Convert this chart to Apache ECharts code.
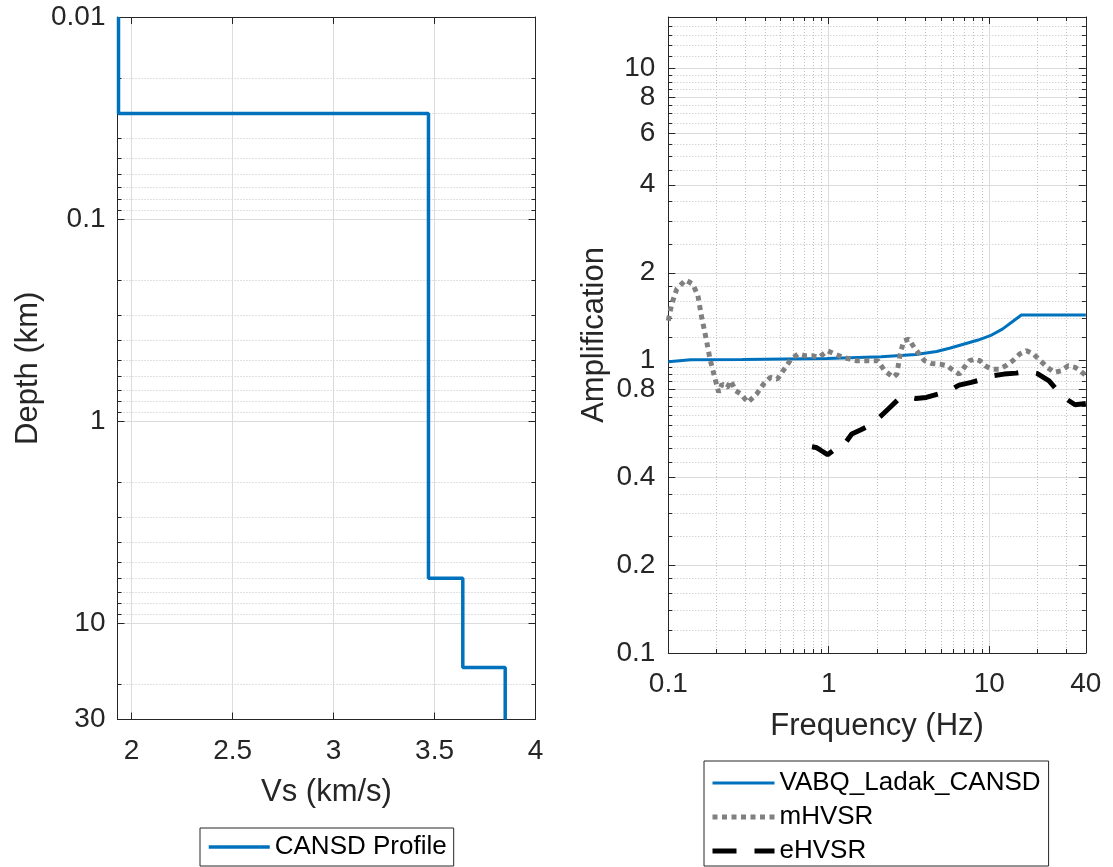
<!DOCTYPE html>
<html>
<head>
<meta charset="utf-8">
<script src="https://cdn.jsdelivr.net/npm/echarts@6/dist/echarts.min.js"></script>
<style>
  html, body { margin: 0; padding: 0; background: #ffffff; }
  #main { width: 1113px; height: 867px; }
</style>
</head>
<body>
<div id="main"></div>
<script>
// ---- Shear-wave velocity profile (layer boundaries in km, Vs in km/s) ----
const depthBounds = [0.01, 0.03, 6.0, 16.6, 30];
const vsLayers = [1.935, 3.47, 3.64, 3.85];

// ---- Theoretical amplification for the profile ----
const freqModel = [0.1, 0.138, 0.291, 0.98, 2.12, 3.49, 4.70, 5.73, 7.0, 8.53, 10.15, 12.08, 14.0, 15.87, 40];
const ampModel  = [0.992, 1.008, 1.010, 1.018, 1.032, 1.051, 1.076, 1.105, 1.141, 1.177, 1.218, 1.283, 1.363, 1.434, 1.434];

// ---- mHVSR ----
const freqM = [0.1, 0.105, 0.113, 0.128, 0.142, 0.153, 0.160, 0.173, 0.182, 0.196, 0.206, 0.216, 0.233, 0.245, 0.263, 0.284, 0.313, 0.355, 0.392, 0.433, 0.478, 0.528, 0.583, 0.644, 0.712, 0.786, 0.868, 0.983, 1.086, 1.229, 1.357, 1.499, 1.656, 1.829, 2.02, 2.231, 2.526, 2.655, 2.79, 2.932, 3.159, 3.403, 3.666, 3.95, 4.362, 4.938, 5.455, 6.025, 6.492, 6.993, 7.534, 8.118, 8.745, 9.422, 10.4, 11.49, 12.69, 14.02, 15.49, 17.1, 18.89, 20.86, 23.04, 25.44, 28.11, 31.04, 34.29, 36.94, 40];
const ampM  = [1.371, 1.563, 1.759, 1.889, 1.830, 1.670, 1.445, 1.171, 1.013, 0.865, 0.779, 0.832, 0.810, 0.854, 0.789, 0.769, 0.720, 0.769, 0.832, 0.877, 0.865, 0.936, 1.013, 1.054, 1.040, 1.040, 1.027, 1.082, 1.054, 1.027, 1.013, 1.0, 1.0, 1.0, 1.0, 0.924, 0.877, 0.900, 1.054, 1.171, 1.186, 1.111, 1.054, 1.0, 0.979, 0.974, 0.961, 0.924, 0.900, 0.949, 1.0, 1.013, 1.0, 0.961, 0.936, 0.936, 0.961, 1.0, 1.054, 1.082, 1.054, 1.0, 0.949, 0.912, 0.924, 0.961, 0.949, 0.924, 0.889];

// ---- eHVSR ----
const freqE = [0.786, 0.834, 0.890, 0.983, 1.059, 1.199, 1.391, 1.575, 1.784, 2.123, 2.403, 2.721, 3.081, 3.487, 4.049, 4.817, 5.591, 6.492, 7.724, 9.19, 10.66, 12.38, 14.73, 17.1, 19.85, 23.62, 26.74, 30.28, 34.29, 40];
const ampE  = [0.508, 0.505, 0.494, 0.477, 0.492, 0.502, 0.561, 0.579, 0.599, 0.648, 0.692, 0.739, 0.753, 0.743, 0.749, 0.769, 0.789, 0.825, 0.843, 0.865, 0.889, 0.900, 0.907, 0.919, 0.905, 0.854, 0.789, 0.739, 0.707, 0.714];

// ---- Tick sets ----
const vsTicks = [2, 2.5, 3, 3.5, 4];
const depthTicks = [0.01, 0.1, 1, 10, 30];
const depthMinor = [0.02, 0.03, 0.04, 0.05, 0.06, 0.07, 0.08, 0.09, 0.2, 0.3, 0.4, 0.5, 0.6, 0.7, 0.8, 0.9, 2, 3, 4, 5, 6, 7, 8, 9, 20];
const freqTicks = [0.1, 1, 10, 40];
const freqMinor = [0.2, 0.3, 0.4, 0.5, 0.6, 0.7, 0.8, 0.9, 2, 3, 4, 5, 6, 7, 8, 9, 20, 30];
const ampTicks = [0.1, 0.2, 0.4, 0.8, 1, 2, 4, 6, 8, 10];
const ampMinor = [0.12, 0.14, 0.16, 0.18, 0.25, 0.3, 0.35, 0.45, 0.5, 0.55, 0.6, 0.65, 0.7, 0.75, 0.85, 0.9, 0.95, 1.2, 1.4, 1.6, 1.8, 2.5, 3, 3.5, 4.5, 5, 5.5, 6.5, 7, 7.5, 8.5, 9, 9.5, 11, 12, 13, 14];

// ---- Styling ----
const FONT = 'Liberation Sans, Arial, Helvetica, sans-serif';
const INK = '#262626';
const BLUE = '#0072BD';
const GREY = '#808080';
const tickFont = { fontFamily: FONT, fontSize: 28, color: INK };
const titleFont = { fontFamily: FONT, fontSize: 31, color: INK };
const majorGrid = { show: true, lineStyle: { color: '#dcdcdc', width: 1, type: 'solid' } };
const minorGrid = { show: true, lineStyle: { color: '#c2c2c2', width: 1, type: [1, 2] } };
const fmtNum = v => String(parseFloat(Number(v).toPrecision(6)));

const styleProfile = { color: BLUE, width: 3.5 };
const styleModel = { color: BLUE, width: 3 };
const styleM = { color: GREY, width: 5, type: [5, 4.5] };
const styleE = { color: '#000000', width: 5, type: [24, 18] };

// Axis that carries a line, ticks, optional labels and grid
function makeAxis(o) {
  return {
    gridIndex: o.grid,
    type: o.type,
    logBase: 10,
    position: o.position,
    inverse: !!o.inverse,
    min: o.min,
    max: o.max,
    name: o.name || '',
    nameLocation: 'middle',
    nameGap: o.nameGap || 0,
    nameTextStyle: titleFont,
    axisLine: { show: o.line !== false, onZero: false, lineStyle: { color: INK, width: 1 } },
    axisTick: {
      show: true, inside: true, length: o.tickLen || 7,
      customValues: o.ticks,
      lineStyle: { color: INK, width: 1 }
    },
    axisLabel: o.labels
      ? Object.assign({ show: true, customValues: o.ticks, margin: o.margin, formatter: fmtNum }, tickFont)
      : { show: false, customValues: o.ticks },
    splitLine: o.grid_ || { show: false },
    minorTick: { show: false },
    minorSplitLine: { show: false },
    silent: true
  };
}

const profilePts = [];
vsLayers.forEach((v, i) => {
  profilePts.push([v, depthBounds[i]], [v, depthBounds[i + 1]]);
});
const zip = (a, b) => a.map((x, i) => [x, b[i]]);

// Legend entries: plain line samples, no marker
const legendEntry = (name, ls) => ({
  name,
  itemStyle: { opacity: 0 },
  lineStyle: { width: ls.width, type: ls.type || 'solid', color: ls.color, cap: 'butt' }
});

const legendBase = {
  orient: 'vertical',
  borderColor: INK, borderWidth: 1, borderRadius: 0,
  backgroundColor: '#ffffff',
  selectedMode: false,
  itemStyle: { opacity: 0 },
  textStyle: { fontFamily: FONT, fontSize: 26, color: '#000000' }
};

const chart = echarts.init(document.getElementById('main'), null, { renderer: 'canvas' });

chart.setOption({
  animation: false,
  backgroundColor: '#ffffff',
  grid: [
    { left: 117.5, top: 17, width: 418, height: 702.5 },
    { left: 668.3, top: 17, width: 417.5, height: 636 }
  ],
  xAxis: [
    makeAxis({ grid: 0, type: 'value', position: 'bottom', min: 1.93, max: 4, ticks: vsTicks, labels: true, margin: 18, grid_: majorGrid, name: 'Vs (km/s)', nameGap: 57 }),
    makeAxis({ grid: 0, type: 'value', position: 'top', min: 1.93, max: 4, ticks: vsTicks }),
    makeAxis({ grid: 1, type: 'log', position: 'bottom', min: 0.1, max: 40, ticks: freqTicks, labels: true, margin: 17, grid_: majorGrid, name: 'Frequency (Hz)', nameGap: 58 }),
    makeAxis({ grid: 1, type: 'log', position: 'top', min: 0.1, max: 40, ticks: freqTicks }),
    makeAxis({ grid: 1, type: 'log', position: 'bottom', min: 0.1, max: 40, ticks: freqMinor, tickLen: 4, line: false, grid_: minorGrid }),
    makeAxis({ grid: 1, type: 'log', position: 'top', min: 0.1, max: 40, ticks: freqMinor, tickLen: 4, line: false })
  ],
  yAxis: [
    makeAxis({ grid: 0, type: 'log', position: 'left', inverse: true, min: 0.01, max: 30, ticks: depthTicks, labels: true, margin: 12, grid_: majorGrid, name: 'Depth (km)', nameGap: 74 }),
    makeAxis({ grid: 0, type: 'log', position: 'right', inverse: true, min: 0.01, max: 30, ticks: depthTicks }),
    makeAxis({ grid: 0, type: 'log', position: 'left', inverse: true, min: 0.01, max: 30, ticks: depthMinor, tickLen: 4, line: false, grid_: minorGrid }),
    makeAxis({ grid: 0, type: 'log', position: 'right', inverse: true, min: 0.01, max: 30, ticks: depthMinor, tickLen: 4, line: false }),
    makeAxis({ grid: 1, type: 'log', position: 'left', min: 0.1, max: 15, ticks: ampTicks, labels: true, margin: 13, grid_: majorGrid, name: 'Amplification', nameGap: 58 }),
    makeAxis({ grid: 1, type: 'log', position: 'right', min: 0.1, max: 15, ticks: ampTicks }),
    makeAxis({ grid: 1, type: 'log', position: 'left', min: 0.1, max: 15, ticks: ampMinor, tickLen: 4, line: false, grid_: minorGrid }),
    makeAxis({ grid: 1, type: 'log', position: 'right', min: 0.1, max: 15, ticks: ampMinor, tickLen: 4, line: false })
  ],
  legend: [
    Object.assign({}, legendBase, {
      data: [legendEntry('CANSD Profile', styleProfile)],
      left: 200, top: 828, height: 60,
      itemWidth: 61, itemHeight: 14, itemGap: 0,
      padding: [6, 7, 6, 7]
    }),
    Object.assign({}, legendBase, {
      data: [
        legendEntry('VABQ_Ladak_CANSD', styleModel),
        legendEntry('mHVSR', styleM),
        legendEntry('eHVSR', styleE)
      ],
      left: 704, top: 761, height: 140,
      itemWidth: 62, itemHeight: 14, itemGap: 8,
      padding: [9, 8, 2, 6]
    })
  ],
  series: [
    {
      name: 'CANSD Profile', type: 'line', xAxisIndex: 0, yAxisIndex: 0,
      data: profilePts, symbol: 'none', clip: false,
      lineStyle: styleProfile, itemStyle: { color: BLUE }
    },
    {
      name: 'VABQ_Ladak_CANSD', type: 'line', xAxisIndex: 2, yAxisIndex: 4,
      data: zip(freqModel, ampModel), symbol: 'none', smooth: false,
      lineStyle: styleModel, itemStyle: { color: BLUE }
    },
    {
      name: 'mHVSR', type: 'line', xAxisIndex: 2, yAxisIndex: 4,
      data: zip(freqM, ampM), symbol: 'none', smooth: false,
      lineStyle: styleM, itemStyle: { color: GREY }
    },
    {
      name: 'eHVSR', type: 'line', xAxisIndex: 2, yAxisIndex: 4,
      data: zip(freqE, ampE), symbol: 'none', smooth: false,
      lineStyle: styleE, itemStyle: { color: '#000000' }
    }
  ]
});
</script>
</body>
</html>
